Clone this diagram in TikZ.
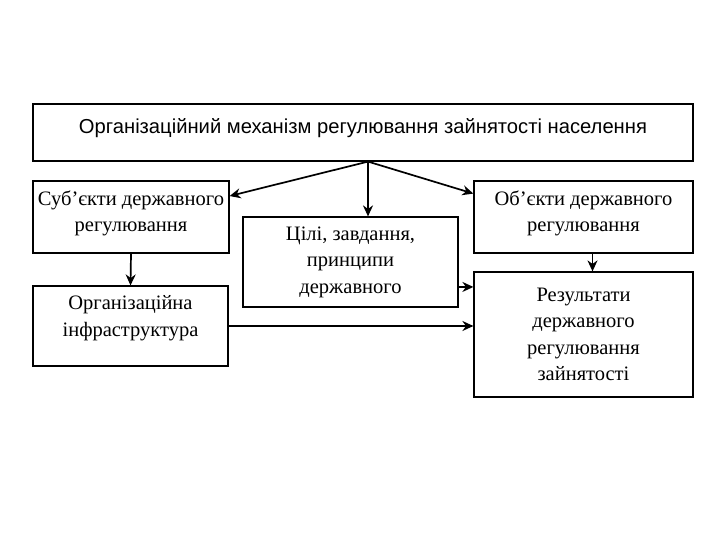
\documentclass[tikz,border=0pt]{standalone}
\usepackage{fontspec}
\setmainfont{Liberation Serif}
\newfontfamily\headfont{Liberation Sans}
\usetikzlibrary{arrows.meta,positioning}

\tikzset{
  box/.style={draw, line width=1.2pt, align=center, inner sep=0pt,
    font=\fontsize{20.5}{26.5}\selectfont},
  link/.style={-{Stealth[length=11pt,width=10pt]}, line width=1.7pt},
}

\begin{document}
\begin{tikzpicture}[x=1pt,y=-1pt]
        \useasboundingbox (0,0) rectangle (720,540);

        % Main box
        \node[box, minimum width=660, minimum height=57, text depth=12pt,
          font=\headfont\fontsize{20.2}{22}\selectfont] (mech) at (363,132.5)
          {Організаційний механізм регулювання зайнятості населення};

        % Left column
        \node[box, minimum width=196, minimum height=72, text depth=12pt] (subj) at (131,217)
          {Суб’єкти державного\\регулювання};
        \node[box, minimum width=195, minimum height=80, text depth=20pt] (infra) at (130.5,326)
          {Організаційна\\інфраструктура};

        % Middle
        \node[box, minimum width=215, minimum height=90] (goal) at (350.5,262)
          {Цілі, завдання,\\принципи\\державного};

        % Right column
        \node[box, minimum width=219, minimum height=72, text depth=12pt] (obj) at (583.5,217)
          {Об’єкти державного\\регулювання};
        \node[box, minimum width=219, minimum height=125] (res) at (583.5,334.5)
          {Результати\\державного\\регулювання\\зайнятості};

        % Arrows from the main box
        \coordinate (fork) at ([xshift=5pt]mech.south);
        \draw[link] (fork) -- (subj.12);
        \draw[link] (fork) -- (fork |- goal.north);
        \draw[link] (fork) -- (obj.168);

        % Arrows between boxes
        \draw[link] (subj.south) -- (infra.north);
        \draw[link] ([xshift=9pt]obj.south) -- ([xshift=9pt]obj.south |- res.north);
        \draw[link] (goal.-13) -- (goal.-13 -| res.west);
        \draw[link] (infra.east) -- (infra.east -| res.west);
\end{tikzpicture}
\end{document}
